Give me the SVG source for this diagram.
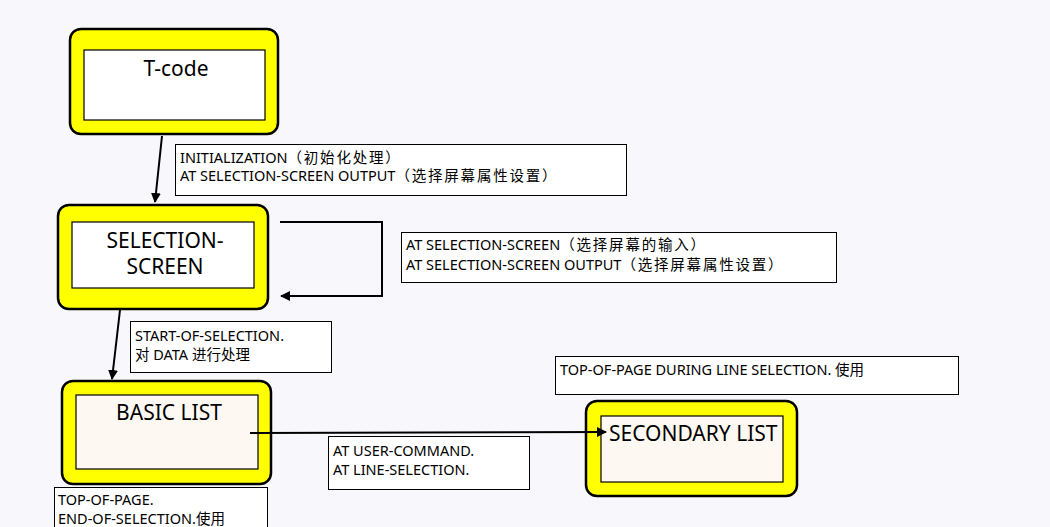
<svg xmlns="http://www.w3.org/2000/svg" width="1050" height="527" viewBox="0 0 1050 527">
<defs>
<style>
.outer{fill:#ffff00;stroke:#000;stroke-width:2.5}
.inner{stroke:#000;stroke-width:1.2}
.title{font-family:"Noto Sans","Noto Sans CJK SC",sans-serif;font-size:21px;fill:#000}
.lbl{fill:#fff;stroke:#000;stroke-width:1}
.lt{font-family:"Noto Sans","Noto Sans CJK SC",sans-serif;font-size:14.5px;fill:#000}
.cjk{letter-spacing:1.8px}
.conn{fill:none;stroke:#000;stroke-width:2}
</style>
<marker id="ah" viewBox="0 0 10 10" refX="9" refY="5" markerWidth="5" markerHeight="5" orient="auto" markerUnits="strokeWidth">
<path d="M0,0 L10,5 L0,10 z" fill="#000"/>
</marker>
</defs>
<rect width="1050" height="527" fill="#f8f8fc"/>
<g id="tcode">
<rect class="outer" x="70" y="29" width="208" height="105" rx="11"/>
<rect class="inner" x="84" y="50" width="181" height="70" fill="#fff"/>
<text class="title" x="176" y="76" text-anchor="middle">T-code</text>
</g>
<g id="selection-screen">
<rect class="outer" x="58" y="205" width="210" height="104" rx="11"/>
<rect class="inner" x="72" y="222" width="182" height="66" fill="#fff"/>
<text class="title" x="165" y="248" text-anchor="middle">SELECTION-</text>
<text class="title" x="165" y="274" text-anchor="middle">SCREEN</text>
</g>
<g id="basic-list">
<rect class="outer" x="62" y="381" width="209" height="103" rx="11"/>
<rect class="inner" x="76" y="395" width="182" height="74" fill="#fdf9f2"/>
<text class="title" x="169" y="420" text-anchor="middle">BASIC LIST</text>
</g>
<g id="secondary-list">
<rect class="outer" x="586" y="401" width="211" height="95" rx="11"/>
<rect class="inner" x="601" y="416" width="182" height="66" fill="#fdf9f2"/>
<text class="title" x="609" y="441">SECONDARY LIST</text>
</g>
<g id="label-init">
<rect class="lbl" x="175.5" y="144.5" width="451" height="51"/>
<text class="lt" x="180" y="163">INITIALIZATION<tspan class="cjk">（初始化处理）</tspan></text>
<text class="lt" x="180" y="181">AT SELECTION-SCREEN OUTPUT<tspan class="cjk">（选择屏幕属性设置）</tspan></text>
</g>
<g id="label-atsel">
<rect class="lbl" x="401.5" y="232.5" width="435" height="50"/>
<text class="lt" x="406" y="250">AT SELECTION-SCREEN<tspan class="cjk">（选择屏幕的输入）</tspan></text>
<text class="lt" x="406" y="270">AT SELECTION-SCREEN OUTPUT<tspan class="cjk">（选择屏幕属性设置）</tspan></text>
</g>
<g id="label-start">
<rect class="lbl" x="130.5" y="321.5" width="201" height="51"/>
<text class="lt" x="135" y="341">START-OF-SELECTION.</text>
<text class="lt" x="135" y="360">对 DATA 进行处理</text>
</g>
<g id="label-user">
<rect class="lbl" x="328.5" y="436.5" width="201" height="53"/>
<text class="lt" x="333" y="456">AT USER-COMMAND.</text>
<text class="lt" x="333" y="475">AT LINE-SELECTION.</text>
</g>
<g id="label-topline">
<rect class="lbl" x="555.5" y="356.5" width="403" height="38"/>
<text class="lt" x="560" y="375">TOP-OF-PAGE DURING LINE SELECTION. 使用</text>
</g>
<g id="label-top">
<rect class="lbl" x="54.5" y="487.5" width="213" height="45"/>
<text class="lt" x="58" y="505">TOP-OF-PAGE.</text>
<text class="lt" x="58" y="524">END-OF-SELECTION.使用</text>
</g>
<g id="connectors">
<line class="conn" x1="162" y1="136" x2="155" y2="202" marker-end="url(#ah)"/>
<polyline class="conn" points="280,222 382,222 382,296 281,296" marker-end="url(#ah)"/>
<line class="conn" x1="120" y1="310" x2="112" y2="379" marker-end="url(#ah)"/>
<line class="conn" x1="250" y1="433" x2="606" y2="432" marker-end="url(#ah)"/>
</g>
</svg>
